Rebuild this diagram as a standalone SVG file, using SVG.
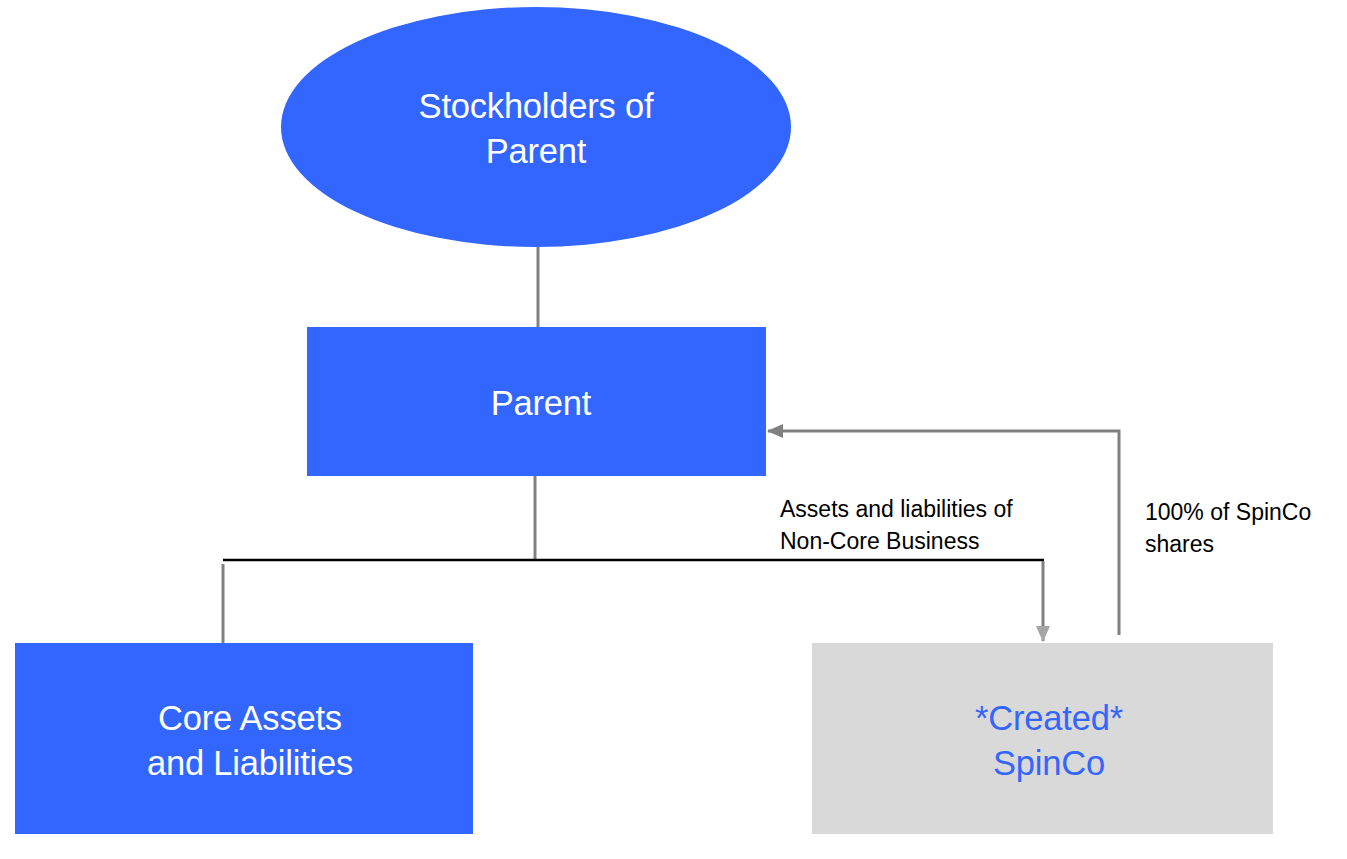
<svg xmlns="http://www.w3.org/2000/svg" width="1347" height="859" viewBox="0 0 1347 859">
<defs>
<style>
.blue{fill:#3366FF}
.grey{fill:#D9D9D9}
.t{font-family:"Liberation Sans",Arial,sans-serif;text-anchor:middle}
.big{font-size:34.5px;letter-spacing:-0.2px}
.w{fill:#FFFFFF}
.b{fill:#3366FF}
.lbl{font-family:"Liberation Sans",Arial,sans-serif;font-size:23px;fill:#000;letter-spacing:0}
.c{stroke:#808080;stroke-width:3;fill:none}
.k{stroke:#000;stroke-width:2.5;fill:none}
</style>
<marker id="ah2" markerWidth="16" markerHeight="14" refX="15" refY="7" orient="auto" markerUnits="userSpaceOnUse" viewBox="0 0 16 14">
<path d="M0,0 L16,7 L0,14 z" fill="#A6A6A6"/>
</marker>
<marker id="ah3" markerWidth="16" markerHeight="14" refX="15" refY="7" orient="auto" markerUnits="userSpaceOnUse" viewBox="0 0 16 14">
<path d="M0,0 L16,7 L0,14 z" fill="#808080"/>
</marker>
</defs>
<rect width="1347" height="859" fill="#FFFFFF"/>
<g id="connectors">
<line class="c" x1="538" y1="247" x2="538" y2="327"/>
<line class="c" x1="535" y1="476" x2="535" y2="560"/>
<line class="k" x1="223" y1="560" x2="1044" y2="560"/>
<line class="c" x1="223" y1="564" x2="223" y2="643"/>
<polyline class="c" points="1043,561 1043,641" marker-end="url(#ah2)"/>
<polyline class="c" points="1119,635 1119,431 768,431" marker-end="url(#ah3)"/>
<text class="lbl" x="780" y="517">Assets and liabilities of</text>
<text class="lbl" x="780" y="549">Non-Core Business</text>
<text class="lbl" x="1145" y="520">100% of SpinCo</text>
<text class="lbl" x="1145" y="552">shares</text>
</g>
<g id="stockholders">
<ellipse class="blue" cx="536" cy="127" rx="255" ry="120"/>
<text class="t big w" x="536" y="118">Stockholders of</text>
<text class="t big w" x="536" y="163">Parent</text>
</g>
<g id="parent">
<rect class="blue" x="307" y="327" width="459" height="149"/>
<text class="t big w" x="541" y="415">Parent</text>
</g>
<g id="core">
<rect class="blue" x="15" y="643" width="458" height="191"/>
<text class="t big w" x="250" y="730">Core Assets</text>
<text class="t big w" x="250" y="775">and Liabilities</text>
</g>
<g id="spinco">
<rect class="grey" x="812" y="643" width="461" height="191"/>
<text class="t big b" x="1049" y="730">*Created*</text>
<text class="t big b" x="1049" y="775">SpinCo</text>
</g>
</svg>
